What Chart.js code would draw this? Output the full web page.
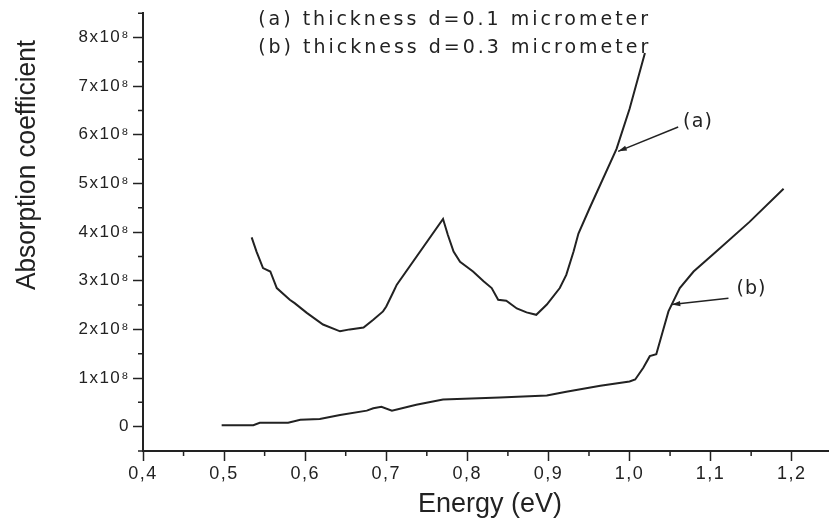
<!DOCTYPE html>
<html>
<head>
<meta charset="utf-8">
<script src="https://cdn.jsdelivr.net/npm/chart.js@4.4.1/dist/chart.umd.min.js"></script>
<style>
  html, body { margin: 0; padding: 0; background: #fff; }
  #wrap { width: 829px; height: 522px; }
</style>
</head>
<body>
<div id="wrap"><canvas id="absChart" width="829" height="522"></canvas></div>
<script>
// curve (a), d = 0.1 micrometer  (absorption in units of 1x10^8)
const energyA = [0.534, 0.540, 0.548, 0.557, 0.565, 0.581, 0.587, 0.602, 0.622, 0.643, 0.655, 0.672, 0.684, 0.696, 0.700, 0.709, 0.713, 0.770, 0.776, 0.783, 0.791, 0.807, 0.820, 0.830, 0.838, 0.848, 0.861, 0.873, 0.885, 0.898, 0.914, 0.922, 0.931, 0.937, 0.951, 0.984, 1.000, 1.019];
const absA = [3.89, 3.60, 3.26, 3.19, 2.85, 2.61, 2.54, 2.34, 2.10, 1.96, 2.00, 2.04, 2.20, 2.37, 2.47, 2.78, 2.92, 4.27, 3.94, 3.60, 3.39, 3.19, 2.99, 2.85, 2.61, 2.59, 2.43, 2.35, 2.30, 2.51, 2.85, 3.12, 3.60, 3.97, 4.50, 5.71, 6.53, 7.68];

// curve (b), d = 0.3 micrometer
const energyB = [0.497, 0.536, 0.544, 0.579, 0.594, 0.618, 0.643, 0.676, 0.684, 0.694, 0.707, 0.737, 0.770, 0.840, 0.898, 0.922, 0.964, 1.000, 1.007, 1.017, 1.025, 1.033, 1.040, 1.048, 1.052, 1.062, 1.079, 1.107, 1.148, 1.190];
const absB = [0.03, 0.03, 0.08, 0.08, 0.14, 0.16, 0.24, 0.33, 0.38, 0.41, 0.33, 0.45, 0.56, 0.60, 0.64, 0.72, 0.84, 0.93, 0.97, 1.21, 1.45, 1.49, 1.90, 2.37, 2.51, 2.85, 3.19, 3.60, 4.21, 4.89];

// tick labels
const xTicks = [0.4, 0.5, 0.6, 0.7, 0.8, 0.9, 1.0, 1.1, 1.2];
const xTickLabels = ["0,4", "0,5", "0,6", "0,7", "0,8", "0,9", "1,0", "1,1", "1,2"];
const yTicks = [0, 1, 2, 3, 4, 5, 6, 7, 8];
const yTickLabels = ["0", "1x10\u2078", "2x10\u2078", "3x10\u2078", "4x10\u2078", "5x10\u2078", "6x10\u2078", "7x10\u2078", "8x10\u2078"];

const legendLines = ["(a) thickness d=0.1 micrometer", "(b) thickness d=0.3 micrometer"];
// arrow labels: [text, label x, label y, tail x, tail y, head x, head y] in data units
const arrowNotes = [
  ["(a)", 1.066, 6.27, 1.060, 6.16, 0.986, 5.66],
  ["(b)", 1.132, 2.82, 1.122, 2.64, 1.052, 2.51]
];

const ink = "#222";
const font = "'Liberation Sans', Arial, sans-serif";
const noteFont = "'DejaVu Sans', Verdana, sans-serif";

// draw text stretched out to a given width using letter spacing
function spacedText(ctx, text, x, y, width) {
  ctx.letterSpacing = "0px";
  const w = ctx.measureText(text).width;
  const sp = Math.max(0, (width - w) / text.length);
  ctx.letterSpacing = sp.toFixed(2) + "px";
  ctx.fillText(text, x, y);
  ctx.letterSpacing = "0px";
}

// draw text squeezed / stretched horizontally to a given width
function scaledText(ctx, text, x, y, width) {
  ctx.letterSpacing = "0px";
  const w = ctx.measureText(text).width;
  ctx.save();
  ctx.translate(x, y);
  ctx.scale(width / w, 1);
  ctx.fillText(text, 0, 0);
  ctx.restore();
}

const extrasPlugin = {
  id: "extras",
  beforeDraw(chart) {
    chart.ctx.letterSpacing = "1.5px";
  },
  afterDraw(chart) {
    const ctx = chart.ctx;
    const xs = chart.scales.x, ys = chart.scales.y;
    const area = chart.chartArea;
    ctx.save();
    ctx.letterSpacing = "0px";
    ctx.strokeStyle = ink;
    ctx.fillStyle = ink;

    // minor ticks
    ctx.lineWidth = 1.5;
    ctx.beginPath();
    for (let i = 0; i < xTicks.length; i++) {
      const px = xs.getPixelForValue(xTicks[i] + 0.05);
      if (px > area.right - 2) continue;
      ctx.moveTo(px, area.bottom);
      ctx.lineTo(px, area.bottom + 5);
    }
    for (let i = 0; i <= yTicks.length; i++) {
      const py = ys.getPixelForValue(i - 0.5);
      ctx.moveTo(area.left, py);
      ctx.lineTo(area.left - 5, py);
    }
    ctx.stroke();

    // legend text inside plot
    ctx.font = "19px " + noteFont;
    ctx.textBaseline = "middle";
    ctx.textAlign = "left";
    spacedText(ctx, legendLines[0], xs.getPixelForValue(0.542), ys.getPixelForValue(8.36), 393);
    spacedText(ctx, legendLines[1], xs.getPixelForValue(0.542), ys.getPixelForValue(7.79), 393);

    // arrows
    arrowNotes.forEach(n => {
      ctx.font = "19px " + noteFont;
      spacedText(ctx, n[0], xs.getPixelForValue(n[1]), ys.getPixelForValue(n[2]), 30);
      const tx = xs.getPixelForValue(n[3]), ty = ys.getPixelForValue(n[4]);
      const hx = xs.getPixelForValue(n[5]), hy = ys.getPixelForValue(n[6]);
      ctx.lineWidth = 1.5;
      ctx.beginPath();
      ctx.moveTo(tx, ty);
      ctx.lineTo(hx, hy);
      ctx.stroke();
      const ang = Math.atan2(hy - ty, hx - tx);
      ctx.beginPath();
      ctx.moveTo(hx, hy);
      ctx.lineTo(hx - 9 * Math.cos(ang - 0.3), hy - 9 * Math.sin(ang - 0.3));
      ctx.lineTo(hx - 9 * Math.cos(ang + 0.3), hy - 9 * Math.sin(ang + 0.3));
      ctx.closePath();
      ctx.fill();
    });

    // axis titles
    ctx.font = "27px " + font;
    ctx.textAlign = "left";
    ctx.textBaseline = "alphabetic";
    scaledText(ctx, "Energy (eV)", 418, 512, 144);
    ctx.translate(35, 290);
    ctx.rotate(-Math.PI / 2);
    scaledText(ctx, "Absorption coefficient", 0, 0, 250);
    ctx.restore();
  }
};

const ctx = document.getElementById("absChart").getContext("2d");
new Chart(ctx, {
  type: "line",
  data: {
    datasets: [
      {
        label: "(a)",
        data: energyA.map((e, i) => ({ x: e, y: absA[i] })),
        borderColor: ink,
        borderWidth: 2,
        pointRadius: 0,
        fill: false,
        tension: 0
      },
      {
        label: "(b)",
        data: energyB.map((e, i) => ({ x: e, y: absB[i] })),
        borderColor: ink,
        borderWidth: 2,
        pointRadius: 0,
        fill: false,
        tension: 0
      }
    ]
  },
  options: {
    responsive: false,
    animation: false,
    layout: { padding: { top: 10, right: 0, left: 0, bottom: 0 } },
    plugins: {
      legend: { display: false },
      tooltip: { enabled: false }
    },
    scales: {
      x: {
        type: "linear",
        min: 0.4,
        max: 1.246,
        afterBuildTicks: s => { s.ticks = xTicks.map(v => ({ value: v })); },
        afterFit: s => { s.height = 71; },
        border: { display: true, color: ink, width: 2 },
        grid: { drawOnChartArea: false, tickLength: 10, color: ink, tickWidth: 1.5 },
        ticks: {
          color: ink,
          font: { family: font, size: 18 },
          padding: 2,
          maxRotation: 0,
          callback: (v, i) => xTickLabels[i]
        }
      },
      y: {
        type: "linear",
        min: -0.5,
        max: 8.5,
        afterBuildTicks: s => { s.ticks = yTicks.map(v => ({ value: v })); },
        afterFit: s => { s.width = 143; },
        border: { display: true, color: ink, width: 2 },
        grid: { drawOnChartArea: false, tickLength: 10, color: ink, tickWidth: 1.5 },
        ticks: {
          color: ink,
          font: { family: font, size: 17 },
          padding: 3,
          callback: (v, i) => yTickLabels[i]
        }
      }
    }
  },
  plugins: [extrasPlugin]
});
</script>
</body>
</html>
